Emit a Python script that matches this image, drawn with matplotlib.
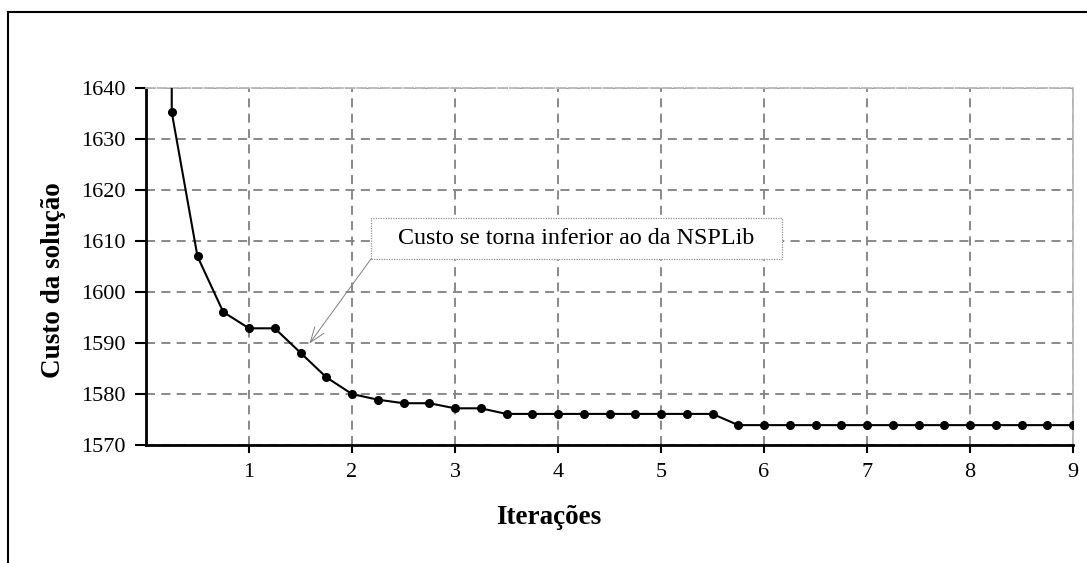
import matplotlib
matplotlib.use("Agg")
import matplotlib.pyplot as plt
from matplotlib.patches import Rectangle
from matplotlib.lines import Line2D

# ---- data ----
iteracoes = [0.25, 0.25, 0.5, 0.75, 1.0, 1.25, 1.5, 1.75, 2.0, 2.25, 2.5, 2.75,
             3.0, 3.25, 3.5, 3.75, 4.0, 4.25, 4.5, 4.75, 5.0, 5.25, 5.5,
             5.75, 6.0, 6.25, 6.5, 6.75, 7.0, 7.25, 7.5, 7.75, 8.0, 8.25,
             8.5, 8.75, 9.0]
custo = [1700, 1635.3, 1607, 1596.1, 1592.9, 1592.9, 1588.1, 1583.3, 1580.0,
         1578.9, 1578.2, 1578.2, 1577.2, 1577.2, 1576.1, 1576.1, 1576.1,
         1576.1, 1576.1, 1576.1, 1576.1, 1576.1, 1576.1,
         1573.9, 1573.9, 1573.9, 1573.9, 1573.9, 1573.9, 1573.9, 1573.9,
         1573.9, 1573.9, 1573.9, 1573.9, 1573.9, 1573.9]
x_ticks = [1, 2, 3, 4, 5, 6, 7, 8, 9]
y_ticks = [1570, 1580, 1590, 1600, 1610, 1620, 1630, 1640]
anotacao = "Custo se torna inferior ao da NSPLib"
xlabel = "Iterações"
ylabel = "Custo da solução"

plt.rcParams['font.family'] = ['Liberation Serif', 'DejaVu Serif']

W, H = 1087, 563
fig = plt.figure(figsize=(W / 100, H / 100), dpi=100)
ax = fig.add_axes([146 / W, 1 - 445 / H, (1073 - 146) / W, (445 - 88.3) / H])

ax.plot(iteracoes, custo, color='black', lw=1.5, marker='o', ms=5.5,
        clip_on=True, zorder=5)

ax.set_xlim(0, 9)
ax.set_ylim(1570, 1640)
ax.set_xticks(x_ticks)
ax.set_yticks(y_ticks)
ax.tick_params(axis='y', direction='out', length=8, width=1.5, pad=7,
               labelsize=16)
ax.tick_params(axis='x', direction='out', length=6, width=1.5, pad=7,
               labelsize=16)

ax.grid(True, color='#808080', linestyle=(0, (5, 3.5)), lw=1.3)
ax.set_axisbelow(True)
for s in ['left', 'bottom']:
    ax.spines[s].set_linewidth(2)
    ax.spines[s].set_color('black')
for s in ['top', 'right']:
    ax.spines[s].set_linewidth(1.3)
    ax.spines[s].set_color('#b8b8b8')
ax.spines['top'].set_linestyle((0, (5, 1.5)))

ax.set_xlabel(xlabel, fontsize=19.5, fontweight='bold', va='center')
ax.set_ylabel(ylabel, fontsize=19.5, fontweight='bold', va='center')
ax.xaxis.set_label_coords((549 - 146) / 927, (445 - 517) / 356.7)
ax.yaxis.set_label_coords((53 - 146) / 927, (445 - 280) / 356.7)

# annotation box
box_x0, box_x1 = (369.3 - 146) / 102.3, (777.7 - 146) / 102.3
box_y0, box_y1 = 1640 - (259.3 - 88.3) / 5.1, 1640 - (218.3 - 88.3) / 5.1
ax.add_patch(Rectangle((box_x0, box_y0), box_x1 - box_x0, box_y1 - box_y0,
                       facecolor='white', edgecolor='#909090', lw=0.9,
                       linestyle=(0, (1, 1)), zorder=6))
ax.text((box_x0 + box_x1) / 2, (box_y0 + box_y1) / 2, anotacao,
        ha='center', va='center', fontsize=17.3, zorder=7)
ax.annotate('', xy=(1.587, 1589.9), xytext=(box_x0, box_y0),
            arrowprops=dict(arrowstyle='->,head_length=1.1,head_width=0.4',
                            color='#808080', lw=0.7, shrinkA=0, shrinkB=0),
            zorder=7)

# outer border
fig.add_artist(Line2D([8 / W, 8 / W], [0, 1 - 12 / H], color='black', lw=1.5,
                      transform=fig.transFigure))
fig.add_artist(Line2D([8 / W, 1], [1 - 12 / H, 1 - 12 / H], color='black',
                      lw=1.5, transform=fig.transFigure))

fig.savefig('out.png', dpi=100, facecolor='white')
